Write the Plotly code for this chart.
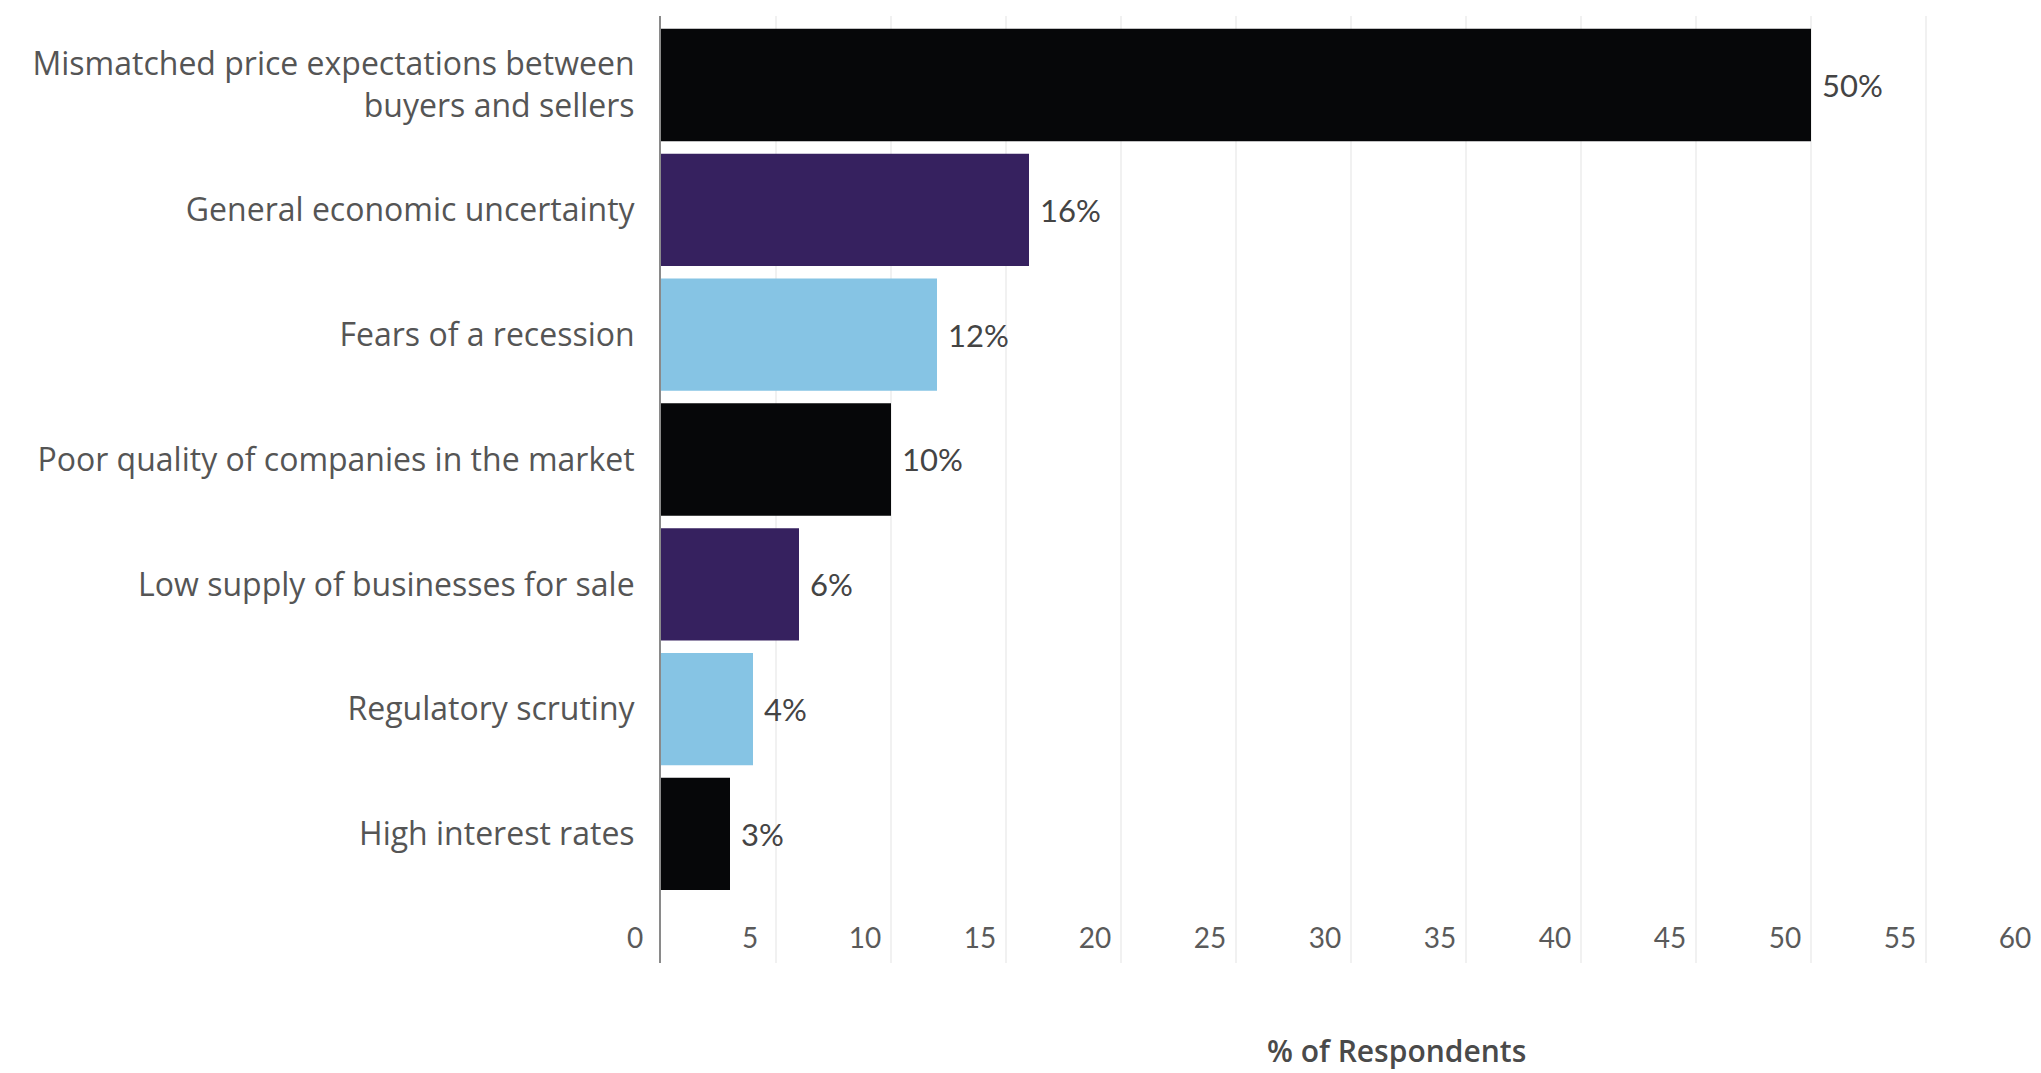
import plotly.graph_objects as go

categories = [
    "Mismatched price expectations between<br>buyers and sellers",
    "General economic uncertainty",
    "Fears of a recession",
    "Poor quality of companies in the market",
    "Low supply of businesses for sale",
    "Regulatory scrutiny",
    "High interest rates",
]
values = [50, 16, 12, 10, 6, 4, 3]
bar_colors = ["#060709", "#36215f", "#86c4e4", "#060709", "#36215f", "#86c4e4", "#060709"]
x_ticks = [0, 5, 10, 15, 20, 25, 30, 35, 40, 45, 50, 55, 60]
x_title = "% of Respondents"

W, H = 2041, 1073
left, right_m, top_m, bottom_m = 661, 0, 16, 110

fig = go.Figure(
    go.Bar(
        x=values,
        y=categories,
        orientation="h",
        marker=dict(color=bar_colors, line=dict(width=0)),
        text=[f"\u00a0{v}%" for v in values],
        textposition="outside",
        textfont=dict(family="Lato", size=31, color="#444444"),
        cliponaxis=False,
        width=0.9,
    )
)

fig.update_layout(
    width=W,
    height=H,
    margin=dict(l=left, r=right_m, t=top_m, b=bottom_m, pad=0),
    paper_bgcolor="white",
    plot_bgcolor="white",
    showlegend=False,
    xaxis=dict(
        range=[0, 60],
        tickvals=x_ticks,
        ticktext=[str(t) for t in x_ticks],
        showgrid=True,
        gridcolor="#f1f1f1",
        gridwidth=1.5,
        zeroline=False,
        showline=False,
        ticks="",
        ticklabelposition="inside",
        ticklabeloverflow="allow",
        ticklabelshift=-26,
        ticklabelstandoff=6,
        tickfont=dict(family="Lato", size=28, color="#5a5a5a"),
        fixedrange=True,
    ),
    yaxis=dict(
        categoryorder="array",
        categoryarray=categories,
        range=[7.034, -0.553],
        showgrid=False,
        zeroline=False,
        showline=True,
        linecolor="#8a8a8a",
        linewidth=2,
        ticks="",
        ticklabelstandoff=18,
        tickfont=dict(family="Open Sans", size=32, color="#555555"),
    ),
    annotations=[
        dict(
            text=x_title,
            xref="paper",
            yref="paper",
            x=0.533,
            y=-0.092,
            xanchor="center",
            yanchor="middle",
            showarrow=False,
            font=dict(family="Open Sans", size=30, color="#4a4a4a", weight=600),
        )
    ],
)

fig.write_html("out.html")
